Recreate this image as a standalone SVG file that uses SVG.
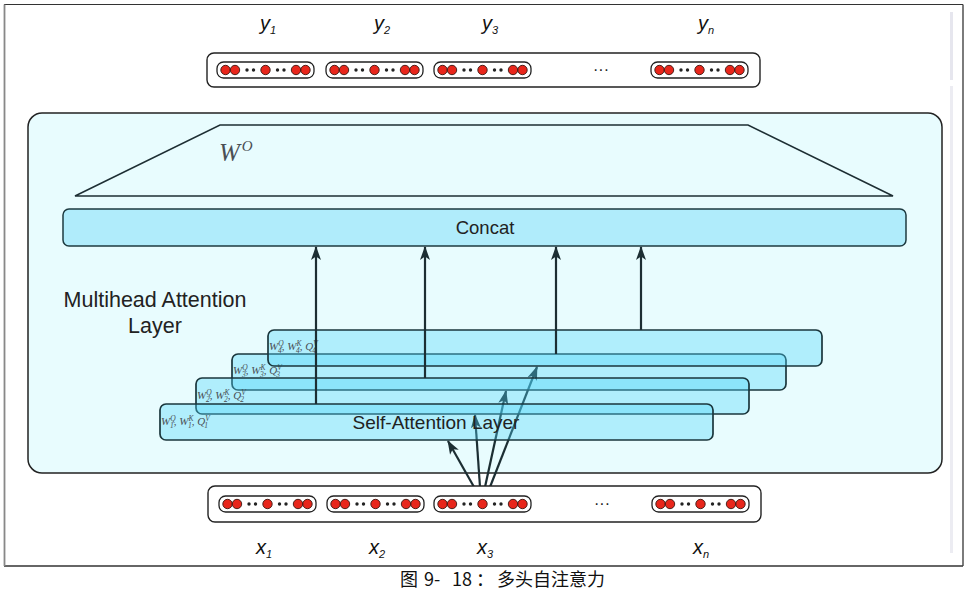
<svg xmlns="http://www.w3.org/2000/svg" xmlns:xlink="http://www.w3.org/1999/xlink" width="970" height="592" viewBox="0 0 970 592">
<style>
.sans{font-family:"Liberation Sans",Arial,sans-serif;fill:#222}
.var{font-family:"Liberation Sans",Arial,sans-serif;font-style:italic;fill:#111}
.math{font-family:"Liberation Serif","DejaVu Serif",serif;font-style:italic;fill:#4a4f55}
.layer{fill:rgb(77,213,249);fill-opacity:0.36;stroke:#1a363c;stroke-width:1.7}
.conn{stroke:#1c2e33;stroke-width:2.2;fill:none}
.pill{fill:#fff;stroke:#222;stroke-width:1.3}
.red{fill:#e8261b;stroke:#3a1510;stroke-width:0.9}
.dot{fill:#222}
</style>
<defs>
<marker id="ah" markerWidth="15" markerHeight="11" refX="13" refY="5.5" orient="auto" markerUnits="userSpaceOnUse">
<path d="M0,0.5 L14,5.5 L0,10.5 L3.5,5.5 z" fill="#1c2e33"/>
</marker>
<g id="vec">
<rect class="pill" x="0" y="-8" width="97" height="16" rx="6.5"/>
<circle class="red" cx="8.5" cy="0" r="4.7"/>
<circle class="red" cx="18" cy="0" r="4.7"/>
<circle class="dot" cx="30" cy="0" r="1.7"/>
<circle class="dot" cx="36.5" cy="0" r="1.7"/>
<circle class="red" cx="48.5" cy="0" r="4.7"/>
<circle class="dot" cx="60.5" cy="0" r="1.7"/>
<circle class="dot" cx="67" cy="0" r="1.7"/>
<circle class="red" cx="79" cy="0" r="4.7"/>
<circle class="red" cx="88.5" cy="0" r="4.7"/>
</g>
</defs>
<rect x="0" y="0" width="970" height="592" fill="#fff"/>
<g id="frame">
<line x1="4" y1="4.5" x2="963" y2="4.5" stroke="#333" stroke-width="1.2"/>
<line x1="4" y1="566" x2="963" y2="566" stroke="#333" stroke-width="1.4"/>
<line x1="963" y1="4.5" x2="963" y2="566" stroke="#444" stroke-width="1.4"/>
<line x1="4.5" y1="4.5" x2="4.5" y2="566" stroke="#888" stroke-width="1.8"/>
<rect x="950" y="12" width="3" height="68" fill="#e6e6ee"/>
<rect x="950" y="86" width="3" height="467" fill="#ececf2"/>
</g>
<g id="outputs">
<rect x="207" y="53" width="553" height="34" rx="7" fill="#fff" stroke="#222" stroke-width="1.4"/>
<use xlink:href="#vec" x="217" y="70"/>
<use xlink:href="#vec" x="326" y="70"/>
<use xlink:href="#vec" x="434" y="70"/>
<use xlink:href="#vec" x="651" y="70"/>
<text class="sans" x="601" y="75" font-size="16" text-anchor="middle">···</text>
</g>
<g id="y-labels">
<text class="var" x="260" y="30" font-size="20">y<tspan font-size="11" dy="4">1</tspan></text>
<text class="var" x="374" y="30" font-size="20">y<tspan font-size="11" dy="4">2</tspan></text>
<text class="var" x="482" y="30" font-size="20">y<tspan font-size="11" dy="4">3</tspan></text>
<text class="var" x="698" y="30" font-size="20">y<tspan font-size="11" dy="4">n</tspan></text>
</g>
<g id="multihead">
<rect x="28" y="113" width="914" height="360" rx="14" fill="#e8fcfe" stroke="#222" stroke-width="1.5"/>
<text class="sans" x="155" y="307" font-size="21.5" text-anchor="middle">Multihead Attention</text>
<text class="sans" x="155" y="333" font-size="21.5" text-anchor="middle">Layer</text>
</g>
<g id="wo">
<path d="M75,196 L220,125 L748,125 L893,196 Z" fill="none" stroke="#1d2e33" stroke-width="1.5"/>
<text class="math" x="219" y="161" font-size="25" fill="#3a3f44">W<tspan font-size="15" dx="2" dy="-10">O</tspan></text>
</g>
<g id="concat">
<rect x="63" y="209" width="843" height="37" rx="6" fill="#b0ecfb" stroke="#1d3a40" stroke-width="1.5"/>
<text class="sans" x="485" y="234" font-size="18.5" text-anchor="middle">Concat</text>
</g>
<g id="connectors-input">
<line class="conn" x1="474" y1="487" x2="448" y2="441" marker-end="url(#ah)"/>
<line class="conn" x1="480" y1="487" x2="475" y2="415" marker-end="url(#ah)"/>
<line class="conn" x1="485" y1="487" x2="506" y2="391" marker-end="url(#ah)"/>
<line class="conn" x1="490" y1="487" x2="537" y2="367" marker-end="url(#ah)"/>
</g>
<g id="layer3">
<rect class="layer" x="232" y="354" width="554" height="36" rx="6"/>
<text class="math" x="233" y="374" font-size="11">W<tspan font-size="7.5" dy="-4">Q</tspan><tspan font-size="7.5" dx="-5.5" dy="7">3</tspan><tspan dy="-3">, W</tspan><tspan font-size="7.5" dy="-4">K</tspan><tspan font-size="7.5" dx="-5.5" dy="7">3</tspan><tspan dy="-3">, Q</tspan><tspan font-size="7.5" dy="-4">V</tspan><tspan font-size="7.5" dx="-5.5" dy="7">3</tspan></text>
</g>
<g id="layer4">
<rect class="layer" x="268" y="330" width="554" height="36" rx="6"/>
<text class="math" x="269" y="350" font-size="11">W<tspan font-size="7.5" dy="-4">Q</tspan><tspan font-size="7.5" dx="-5.5" dy="7">4</tspan><tspan dy="-3">, W</tspan><tspan font-size="7.5" dy="-4">K</tspan><tspan font-size="7.5" dx="-5.5" dy="7">4</tspan><tspan dy="-3">, Q</tspan><tspan font-size="7.5" dy="-4">V</tspan><tspan font-size="7.5" dx="-5.5" dy="7">4</tspan></text>
</g>
<g id="layer2">
<rect class="layer" x="196" y="378" width="553" height="36" rx="6"/>
<text class="math" x="197" y="399" font-size="11">W<tspan font-size="7.5" dy="-4">Q</tspan><tspan font-size="7.5" dx="-5.5" dy="7">2</tspan><tspan dy="-3">, W</tspan><tspan font-size="7.5" dy="-4">K</tspan><tspan font-size="7.5" dx="-5.5" dy="7">2</tspan><tspan dy="-3">, Q</tspan><tspan font-size="7.5" dy="-4">V</tspan><tspan font-size="7.5" dx="-5.5" dy="7">2</tspan></text>
</g>
<g id="layer1">
<rect class="layer" x="160" y="404" width="553" height="36" rx="6"/>
<text class="math" x="161" y="425" font-size="11">W<tspan font-size="7.5" dy="-4">Q</tspan><tspan font-size="7.5" dx="-5.5" dy="7">1</tspan><tspan dy="-3">, W</tspan><tspan font-size="7.5" dy="-4">K</tspan><tspan font-size="7.5" dx="-5.5" dy="7">1</tspan><tspan dy="-3">, Q</tspan><tspan font-size="7.5" dy="-4">V</tspan><tspan font-size="7.5" dx="-5.5" dy="7">1</tspan></text>
<text class="sans" x="436" y="429" font-size="19" text-anchor="middle">Self-Attention Layer</text>
</g>
<g id="connectors">
<line class="conn" x1="316" y1="404" x2="316" y2="247" marker-end="url(#ah)"/>
<line class="conn" x1="425" y1="378" x2="425" y2="247" marker-end="url(#ah)"/>
<line class="conn" x1="556" y1="354" x2="556" y2="247" marker-end="url(#ah)"/>
<line class="conn" x1="641" y1="330" x2="641" y2="247" marker-end="url(#ah)"/>
</g>
<g id="inputs">
<rect x="208" y="486" width="553" height="36" rx="7" fill="#fff" stroke="#222" stroke-width="1.4"/>
<use xlink:href="#vec" x="219" y="504"/>
<use xlink:href="#vec" x="327" y="504"/>
<use xlink:href="#vec" x="434" y="504"/>
<use xlink:href="#vec" x="652" y="504"/>
<text class="sans" x="602" y="509" font-size="16" text-anchor="middle">···</text>
</g>
<g id="x-labels">
<text class="var" x="256" y="554" font-size="20">x<tspan font-size="11" dy="4">1</tspan></text>
<text class="var" x="369" y="554" font-size="20">x<tspan font-size="11" dy="4">2</tspan></text>
<text class="var" x="477" y="554" font-size="20">x<tspan font-size="11" dy="4">3</tspan></text>
<text class="var" x="693" y="554" font-size="20">x<tspan font-size="11" dy="4">n</tspan></text>
</g>
<g id="caption">
<text y="586" font-size="18" font-family="'Noto Sans CJK SC','Noto Sans CJK JP',sans-serif" fill="#111"><tspan x="400">图</tspan><tspan x="424">9-</tspan><tspan x="452">18</tspan><tspan x="476">：</tspan><tspan x="497">多头自注意力</tspan></text>
</g>
</svg>
